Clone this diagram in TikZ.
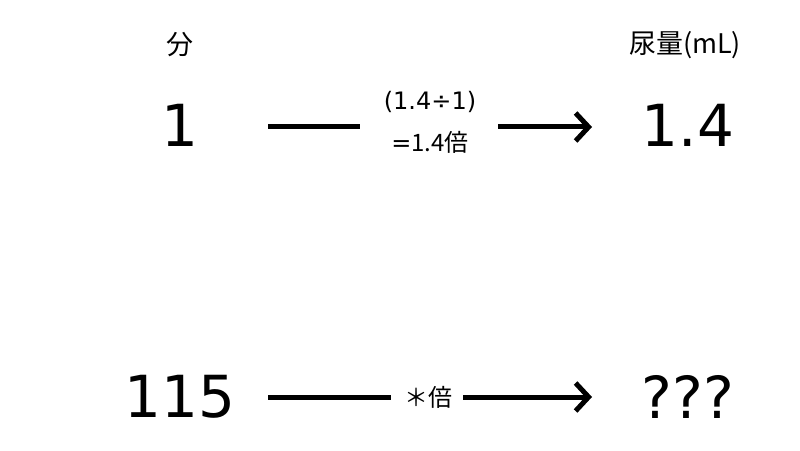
\documentclass[tikz,border=0pt]{standalone}
\usepackage{fontspec}
\setmainfont{DejaVu Sans}
\newfontfamily\cjk{Noto Sans CJK JP}
\usetikzlibrary{arrows.meta}
\begin{document}
\begin{tikzpicture}[x=1pt,y=1pt,
  big/.style={font=\fontsize{58}{64}\selectfont},
  hdr/.style={font=\cjk\fontsize{27}{30}\selectfont},
  lbl/.style={font=\fontsize{24}{42}\selectfont,align=center},
  conn/.style={line width=5pt},
  arr/.style={line width=5pt,-{Straight Barb[length=13pt,width=28pt]}}]
\useasboundingbox[fill=white] (0,0) rectangle (800,450);
\node[hdr] (h1) at (180,405) {分};
\node[hdr] (h2) at (685,405) {尿量(mL)};
\node[big] (a) at (180,325) {1};
\node[big] (b) at (688,325) {1.4};
\node[lbl] (l1) at (430,328) {(1.4÷1)\\={\cjk 1.4倍}};
\coordinate (s1) at (268,323);
\coordinate (m1) at (360,323);
\coordinate (m2) at (498,323);
\coordinate (e1) at (592,323);
\draw[conn] (s1) -- (m1);
\draw[arr] (m2) -- (e1);
\node[big] (c) at (180,53) {115};
\node[big] (d) at (688,53) {???};
\node[lbl,font=\cjk\fontsize{24}{28}\selectfont] (l2) at (428,53) {＊倍};
\coordinate (s2) at (268,53);
\coordinate (m3) at (391,53);
\coordinate (m4) at (463,53);
\coordinate (e2) at (592,53);
\draw[conn] (s2) -- (m3);
\draw[arr] (m4) -- (e2);
\end{tikzpicture}
\end{document}
